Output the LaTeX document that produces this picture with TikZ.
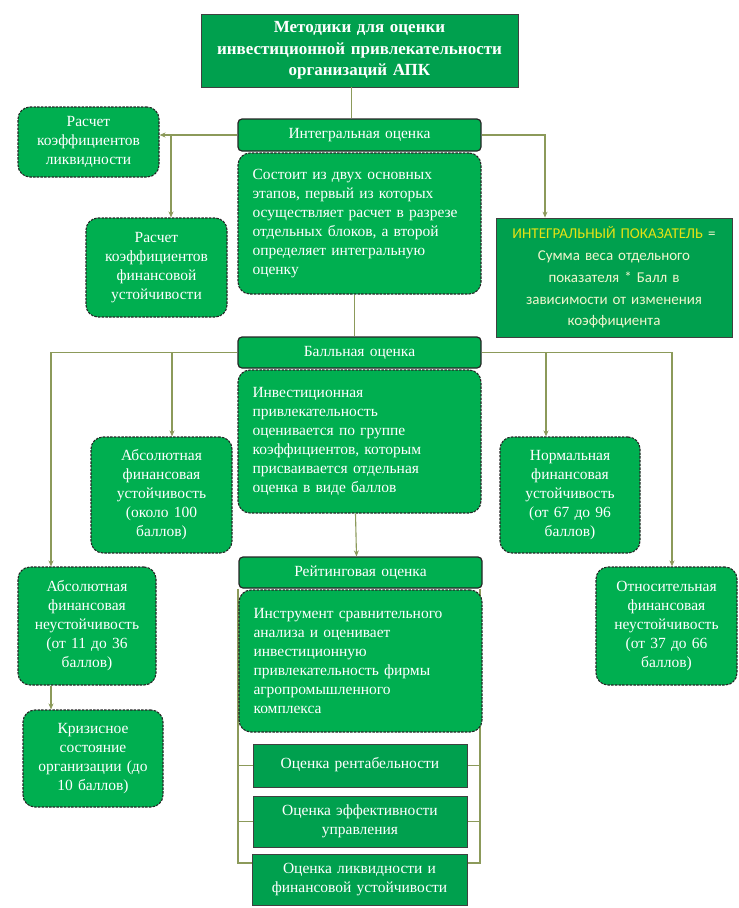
\documentclass[tikz,border=0pt]{standalone}
\usepackage{fontspec}
\setmainfont{Liberation Serif}
\newfontfamily\calibfont{Carlito}
\usetikzlibrary{calc,backgrounds,arrows.meta}

\definecolor{boxgreen}{RGB}{0,175,80}
\definecolor{rectgreen}{RGB}{0,160,78}
\definecolor{linkolive}{RGB}{140,154,90}
\definecolor{formyellow}{RGB}{232,226,20}
\definecolor{formpale}{RGB}{240,245,205}

\tikzset{
  size/.style 2 args={minimum width=#1pt, minimum height=#2pt, text width=#1pt-14pt},
  basebox/.style={inner sep=0pt, align=center, text=white, font=\fontsize{15.5}{19}\selectfont},
  rectbox/.style={basebox, draw=black!75, line width=0.8pt, fill=rectgreen},
  headbox/.style={basebox, draw=black!85, line width=1.2pt, rounded corners=4pt, fill=boxgreen},
  dashbox/.style={basebox, draw=black!85, line width=1.1pt, dash pattern=on 2.5pt off 1.2pt, rounded corners=12pt, fill=boxgreen},
  descbox/.style={dashbox, align=left},
  link/.style={draw=linkolive, line width=1.1pt},
}

\begin{document}
\begin{tikzpicture}[x=1pt,y=-1pt,>={Stealth[length=6pt,width=5pt]}]

    \useasboundingbox (0,0) rectangle (739,908);

    % заголовок
    \node[rectbox, size={317}{73}, font=\bfseries\fontsize{17}{21.5}\selectfont] (title) at (359.5,50.5)
        {Методики для оценки\\инвестиционной привлекательности\\организаций АПК};

    % интегральная оценка
    \node[headbox, size={243}{32}] (integ) at (359.5,135) {Интегральная оценка};
    \node[descbox, size={243}{141}, text width=214pt] (integd) at (359.5,223.5)
        {Состоит из двух основных\\этапов, первый из которых\\осуществляет расчет в разрезе\\отдельных блоков, а второй\\определяет интегральную\\оценку};
    \node[dashbox, size={141}{70}] (liq) at (88.5,142) {Расчет\\коэффициентов\\ликвидности};
    \node[dashbox, size={141}{99}] (fin) at (156.5,267.5) {Расчет\\коэффициентов\\финансовой\\устойчивости};
    \node[rectbox, size={236}{119}, text=formpale, font=\calibfont\fontsize{15}{21.7}\selectfont] (formula) at (614,277.5)
        {{\color{formyellow}ИНТЕГРАЛЬНЫЙ ПОКАЗАТЕЛЬ} =\\Сумма веса отдельного\\показателя * Балл в\\зависимости от изменения\\коэффициента};

    % балльная оценка
    \node[headbox, size={243}{31}] (ball) at (359.5,352.5) {Балльная оценка};
    \node[descbox, size={243}{143}, text width=214pt] (balld) at (359.5,441.5)
        {Инвестиционная\\привлекательность\\оценивается по группе\\коэффициентов, которым\\присваивается отдельная\\оценка в виде баллов};
    \node[dashbox, size={141}{116}] (absust) at (161.5,495) {Абсолютная\\финансовая\\устойчивость\\(около 100\\баллов)};
    \node[dashbox, size={140}{116}] (normust) at (570,495) {Нормальная\\финансовая\\устойчивость\\(от 67 до 96\\баллов)};
    \node[dashbox, size={138}{118}] (absneust) at (87,626) {Абсолютная\\финансовая\\неустойчивость\\(от 11 до 36\\баллов)};
    \node[dashbox, size={141}{118}] (relneust) at (666.5,626) {Относительная\\финансовая\\неустойчивость\\(от 37 до 66\\баллов)};
    \node[dashbox, size={140}{97}] (crisis) at (93,758.5) {Кризисное\\состояние\\организации (до\\10 баллов)};

    % рейтинговая оценка
    \node[headbox, size={243}{31}] (rating) at (360.5,572.5) {Рейтинговая оценка};
    \node[descbox, size={243}{142}, text width=214pt] (ratingd) at (360.5,661)
        {Инструмент сравнительного\\анализа и оценивает\\инвестиционную\\привлекательность фирмы\\агропромышленного\\комплекса};
    \node[rectbox, size={214}{43}] (rent) at (360,765.5) {\raisebox{6pt}{Оценка рентабельности}};
    \node[rectbox, size={214}{51}] (eff) at (360,821.5) {Оценка эффективности\\управления};
    \node[rectbox, size={215}{51}] (liqfin) at (359.5,879.5) {Оценка ликвидности и\\финансовой устойчивости};

    % точки разветвления
    \coordinate (il) at (171,135);
    \coordinate (ir) at (545,135);
    \coordinate (bl) at (51,352.5);
    \coordinate (bm) at (172,352.5);
    \coordinate (bn) at (546,352.5);
    \coordinate (br) at (672,352.5);
    \coordinate (kl) at (238,863);
    \coordinate (kr) at (480,863);

    % связи интегральной оценки
    \draw[link] ([xshift=-8pt]title.south) -- ([xshift=-8pt]integ.north);
    \draw[link,->] (integ.west) -- (integ.west -| liq.east);
    \draw[link,->] (il) -- (il |- fin.north);
    \draw[link,->] (integ.east) -- (ir) -- (ir |- formula.north);
    \draw[link] ([xshift=-5pt]integd.south) -- ([xshift=-5pt]ball.north);

    % связи балльной оценки
    \draw[link,->] (ball.west) -- (bl) -- (bl |- absneust.north);
    \draw[link,->] (bm) -- (bm |- absust.north);
    \draw[link,->] (ball.east) -- (br) -- (br |- relneust.north);
    \draw[link,->] (bn) -- (bn |- normust.north);
    \draw[link,->] (absneust.south -| bl) -- (crisis.north -| bl);
    \draw[link,->] ([xshift=-4pt]balld.south) -- ([xshift=-4pt]rating.north);

    % скобка рейтинговой оценки
    \begin{scope}[on background layer]
        \draw[link] (rating.south -| kl) -- (kl) -- (kr) -- (rating.south -| kr);
        \draw[link] (kl |- rent.west) -- (rent.west);
        \draw[link] (kl |- eff.west) -- (eff.west);
        \draw[link] (rent.east) -- (kr |- rent.east);
        \draw[link] (eff.east) -- (kr |- eff.east);
    \end{scope}

\end{tikzpicture}
\end{document}
